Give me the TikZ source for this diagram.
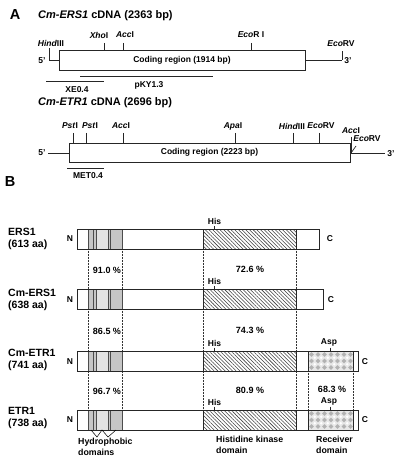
\documentclass[tikz,border=0pt]{standalone}
\usepackage{fontspec}
\setmainfont{Liberation Sans}
\usetikzlibrary{patterns.meta}
\newcommand\protbar[3]{%
  % #1 top y, #2 right end x, #3 name
  \node[draw=none, minimum width={#2pt-77pt}, minimum height=20pt, anchor=north west, inner sep=0pt] (#3) at (77,#1) {};
  \fill[white] (77,#1) rectangle (#2,#1+20);
  \fill[gray!45] (88,#1) rectangle (122,#1+20);
  \fill[gray!22] (96,#1) rectangle (108,#1+20);
  \foreach \xx in {88,93,96,108,110,122} \draw[line width=0.5pt, black!70] (\xx,#1) -- (\xx,#1+20);
  \fill[pattern={Lines[angle=-45,distance=2.6pt,line width=0.55pt]}, pattern color=black!75] (203,#1) rectangle (296,#1+20);
  \draw[ln] (203,#1) -- (203,#1+20) (296,#1) -- (296,#1+20);
  \draw[ln] (77,#1) rectangle (#2,#1+20);
}
\newcommand\recv[1]{%
  \fill[gray!18] (308,#1) rectangle (353,#1+20);
  \foreach \i in {0,...,6} \foreach \j in {0,1,2}
    \fill[gray!60] (311.5+\i*6.5,#1+3.5+\j*6.5) ++(0,-2.3) -- ++(2.3,2.3) -- ++(-2.3,2.3) -- ++(-2.3,-2.3) -- cycle;
  \foreach \i in {0,...,5} \foreach \j in {0,1}
    \fill[white] (314.75+\i*6.5,#1+6.75+\j*6.5) circle (1.3);
  \draw[ln] (308,#1) -- (308,#1+20) (353,#1) -- (353,#1+20);
}
\begin{document}
\begin{tikzpicture}[x=1pt,y=-1pt,
  every node/.style={font=\bfseries\fontsize{8.5}{10}\selectfont, inner sep=0pt},
  ln/.style={line width=0.7pt, draw=black!85},
  bx/.style={line width=0.7pt, draw=black!85, fill=white},
  dot/.style={densely dotted, line width=0.5pt, draw=black!80},
  ttl/.style={font=\bfseries\fontsize{11}{13}\selectfont, anchor=west},
  lbl/.style={font=\bfseries\fontsize{10.5}{12}\selectfont, anchor=west, align=left},
  pct/.style={font=\bfseries\fontsize{9}{10}\selectfont},
  big/.style={font=\bfseries\fontsize{14.5}{16}\selectfont},
]
\useasboundingbox (0,0) rectangle (400,462);

% ---------------- Part A ----------------
\node[big] (lA) at (15,15) {A};
\node[ttl] (t1) at (38,16) {\textit{Cm-ERS1} cDNA (2363 bp)};

\node[bx, minimum width=246pt, minimum height=20pt] (cds1) at (182,60) {Coding region (1914 bp)};
\node (p5a) at (42,61) {5'};
\node (p3a) at (348,61) {3'};
\coordinate (l1a) at (49,60);
\coordinate (l1b) at (342,60);
\draw[ln] (l1a) -- (cds1.west |- l1a);
\draw[ln] (cds1.east |- l1b) -- (l1b);
% sites
\coordinate (hA) at (49,48);  \draw[ln] (l1a) -- (hA);
\node (hAl) at (51,43) {\textit{Hind}III};
\coordinate (xA) at (104,43); \draw[ln] (xA) -- (104,50);
\node (xAl) at (99,35) {\textit{Xho}I};
\coordinate (aA) at (123,43); \draw[ln] (aA) -- (123,50);
\node (aAl) at (125,35) {\textit{Acc}I};
\coordinate (eA) at (251,43); \draw[ln] (eA) -- (251,50);
\node (eAl) at (251,35) {\textit{Eco}R I};
\coordinate (rA) at (342,51); \draw[ln] (l1b) -- (rA);
\node (rAl) at (341,44) {\textit{Eco}RV};
% probes
\coordinate (xe1) at (46,81); \coordinate (xe2) at (104,81);
\draw[ln] (xe1) -- (xe2);
\node (xel) at (77,90) {XE0.4};
\coordinate (pk1) at (80,76); \coordinate (pk2) at (213,76);
\draw[ln] (pk1) -- (pk2);
\node (pkl) at (149,85) {pKY1.3};

\node[ttl] (t2) at (38,103) {\textit{Cm-ETR1} cDNA (2696 bp)};
\node[bx, minimum width=281pt, minimum height=19pt] (cds2) at (209.5,152.5) {Coding region (2223 bp)};
\node (p5b) at (42,153) {5'};
\node (p3b) at (391,154) {3'};
\coordinate (l2a) at (48,153);
\coordinate (l2b) at (385,153);
\coordinate (l2c) at (351,153);
\draw[ln] (l2a) -- (cds2.west |- l2a);
\draw[ln] (l2c) -- (l2b);
\foreach \xx/\nm in {73/ps1, 86/ps2, 123/ac2, 235/ap2, 293/hi2, 319/ev2}
  \draw[ln] (\xx,133) coordinate (\nm) -- (\xx,143);
\node (ps1l) at (70,126) {\textit{Pst}I};
\node (ps2l) at (90,126) {\textit{Pst}I};
\node (ac2l) at (121,126) {\textit{Acc}I};
\node (ap2l) at (233,126) {\textit{Apa}I};
\node (hi2l) at (292,126) {\textit{Hind}III};
\node (ev2l) at (321,126) {\textit{Eco}RV};
\coordinate (ac3) at (351,137);
\draw[line width=1pt, black!85] (ac3) -- (l2c);
\node (ac3l) at (351,131) {\textit{Acc}I};
\coordinate (ev3) at (356,146);
\draw[ln] (l2c) -- (ev3);
\node (ev3l) at (367,139) {\textit{Eco}RV};
\coordinate (me1) at (67,168); \coordinate (me2) at (104,168);
\draw[ln] (me1) -- (me2);
\node (mel) at (88,176) {MET0.4};

% ---------------- Part B ----------------
\node[big] (lB) at (10,182) {B};

% dotted guide lines
\draw[dot] (88,249) -- (88,410);
\draw[dot] (122,249) -- (122,410);
\draw[dot] (203,249) -- (203,410);
\draw[dot] (296,249) -- (296,410);
\draw[dot] (308,371) -- (308,410);
\draw[dot] (353,371) -- (353,410);

\protbar{229}{319}{b1}
\protbar{289}{323}{b2}
\protbar{351}{358}{b3}
\recv{351}
\draw[ln] (77,351) rectangle (358,371);
\protbar{410}{358}{b4}
\recv{410}
\draw[ln] (77,410) rectangle (358,430);

% left labels
\node[lbl] (n1) at (8,239) {ERS1\\(613 aa)};
\node[lbl] (n2) at (8,299.5) {Cm-ERS1\\(638 aa)};
\node[lbl] (n3) at (8,360) {Cm-ETR1\\(741 aa)};
\node[lbl] (n4) at (8,418) {ETR1\\(738 aa)};
\foreach \yy/\nm in {239/N1, 300/N2, 362/N3, 420/N4} \node (\nm) at (70,\yy) {N};
\node (C1) at (330,239) {C};
\node (C2) at (331,300) {C};
\node (C3) at (365,362) {C};
\node (C4) at (365,420) {C};

% His and Asp marks
\foreach \yy/\nm in {229/h1, 289/h2, 351/h3, 410/h4}{
  \draw[ln] (214,\yy-3.5) coordinate (\nm) -- (214,\yy);
  \node at (214.5,\yy-8) {His};
}
\foreach \yy/\nm in {351/a3, 410/a4}{
  \draw[ln] (330,\yy-3.5) coordinate (\nm) -- (330,\yy);
  \node at (329,\yy-8.5) {Asp};
}

% percentages
\node[pct] (q1) at (107,270) {91.0 \%};
\node[pct] (q2) at (250,269) {72.6 \%};
\node[pct] (q3) at (107,331) {86.5 \%};
\node[pct] (q4) at (250,330) {74.3 \%};
\node[pct] (q5) at (107,391) {96.7 \%};
\node[pct] (q6) at (250,390) {80.9 \%};
\node[pct] (q7) at (332,389) {68.3 \%};

% domain labels
\node[anchor=west, align=left, font=\bfseries\fontsize{8.8}{10.5}\selectfont] (hyd) at (78,447) {Hydrophobic\\domains};
\node[anchor=west, align=left, font=\bfseries\fontsize{8.8}{10.5}\selectfont] (hkd) at (216,445) {Histidine kinase\\domain};
\node[anchor=west, align=left, font=\bfseries\fontsize{8.8}{10.5}\selectfont] (rcd) at (316,445) {Receiver\\domain};
\coordinate (hy1) at (91,430); \coordinate (hy2) at (102,430); \coordinate (hy3) at (116,430);
\coordinate (hyA) at (97,437); \coordinate (hyB) at (108,437);
\draw[line width=0.5pt] (hy1) -- (hyA) -- (hy2) -- (hyB) -- (hy3);
\end{tikzpicture}
\end{document}
